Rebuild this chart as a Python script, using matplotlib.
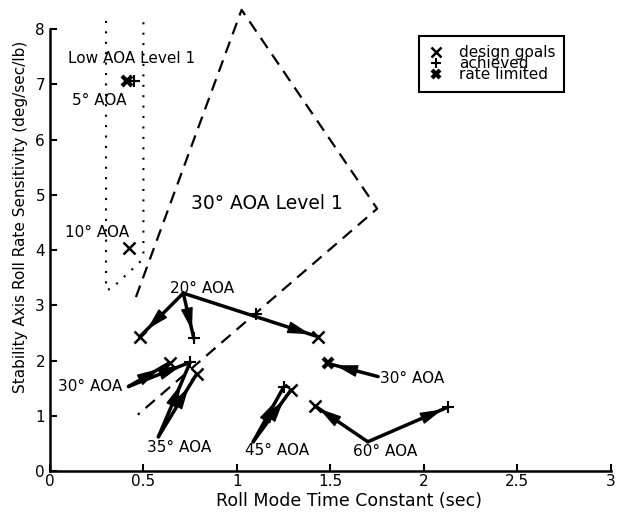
import matplotlib.pyplot as plt
from matplotlib.lines import Line2D

plt.rcParams['font.family'] = ['DejaVu Sans']

# Low AOA level 1 boundary (dotted) and 30 deg AOA level 1 boundary (dashed)
low_aoa_x = [0.30, 0.30, 0.33, 0.375, 0.43, 0.48, 0.50, 0.50]
low_aoa_y = [8.15, 3.28, 3.30, 3.45, 3.62, 3.78, 3.92, 8.15]
high_aoa_x = [0.46, 1.025, 1.75, 0.47]
high_aoa_y = [3.15, 8.35, 4.75, 1.02]

# design goals, achieved and rate limited points
goals_x = [0.424, 0.48, 1.435, 0.64, 0.785, 1.29, 1.417]
goals_y = [4.03, 2.43, 2.43, 1.96, 1.76, 1.47, 1.18]
achieved_x = [0.45, 0.77, 1.10, 0.75, 1.25, 2.13]
achieved_y = [7.07, 2.40, 2.84, 1.97, 1.52, 1.16]
limited_x = [0.41, 1.485]
limited_y = [7.07, 1.95]

# arrows: start point, end point, fraction of the way where the head sits
arrow_x0 = [0.713, 0.713, 0.713, 0.42, 0.42, 0.58, 0.58, 1.087, 1.087, 1.70, 1.70, 1.755]
arrow_y0 = [3.22, 3.22, 3.22, 1.53, 1.53, 0.62, 0.62, 0.53, 0.53, 0.53, 0.53, 1.71]
arrow_x1 = [0.48, 0.77, 1.435, 0.64, 0.75, 0.785, 0.75, 1.29, 1.25, 1.417, 2.13, 1.485]
arrow_y1 = [2.43, 2.40, 2.43, 1.96, 1.97, 1.76, 1.97, 1.47, 1.52, 1.18, 1.16, 1.95]
arrow_frac = [0.83, 0.82, 0.94, 0.75, 0.85, 0.79, 0.7, 0.8, 0.75, 0.92, 0.93, 0.85]

labels = ['Low AOA Level 1', '5° AOA', '10° AOA', '30° AOA Level 1', '20° AOA',
          '30° AOA', '35° AOA', '45° AOA', '60° AOA', '30° AOA']
label_x = [0.097, 0.116, 0.08, 0.757, 0.642, 0.043, 0.517, 1.043, 1.62, 1.765]
label_y = [7.47, 6.71, 4.31, 4.85, 3.31, 1.53, 0.43, 0.38, 0.35, 1.68]
label_size = [11, 11, 11, 13.5, 11, 11, 11, 11, 11, 11]

fig = plt.figure(figsize=(6.24, 5.12), dpi=100)
ax = fig.add_axes([0.080, 0.080, 0.899, 0.863])

ax.plot(low_aoa_x, low_aoa_y, color='k', lw=1.5, ls=(0, (1, 4)), clip_on=False)
ax.plot(high_aoa_x, high_aoa_y, color='k', lw=1.6, ls=(0, (5.5, 3.5)), clip_on=False)

for x0, y0, x1, y1, f in zip(arrow_x0, arrow_y0, arrow_x1, arrow_y1, arrow_frac):
    ax.plot([x0, x1], [y0, y1], color='k', lw=2.5, solid_capstyle='round')
    tip = (x0 + f * (x1 - x0), y0 + f * (y1 - y0))
    ax.annotate('', xy=tip, xytext=(x0, y0),
                arrowprops=dict(arrowstyle='-|>,head_length=1.0,head_width=0.27',
                                color='k', lw=1.0, shrinkA=0, shrinkB=0,
                                mutation_scale=14))

ax.plot(goals_x, goals_y, 'x', color='k', ms=8, mew=1.8, ls='none')
ax.plot(achieved_x, achieved_y, '+', color='k', ms=8, mew=1.5, ls='none')
ax.plot(limited_x, limited_y, 'x', color='k', ms=7, mew=3.0, ls='none')

for txt, x, y, s in zip(labels, label_x, label_y, label_size):
    ax.text(x, y, txt, fontsize=s, ha='left', va='center')

handles = [
    Line2D([], [], marker='x', color='k', ls='none', ms=7, mew=1.8),
    Line2D([], [], marker='+', color='k', ls='none', ms=7, mew=1.5),
    Line2D([], [], marker='x', color='k', ls='none', ms=6, mew=3.0),
]
leg = ax.legend(handles, ['design goals', 'achieved', 'rate limited'],
                loc='upper left', bbox_to_anchor=(0.658, 0.985), fontsize=11,
                frameon=True, fancybox=False, edgecolor='k', framealpha=1,
                labelspacing=-0.25, handlelength=1.0, handletextpad=1.0,
                borderpad=0.6, borderaxespad=0)
leg.get_frame().set_linewidth(1.5)

ax.set_xlim(0, 3)
ax.set_ylim(0, 8)
ax.set_xticks([0, 0.5, 1, 1.5, 2, 2.5, 3])
ax.set_xticklabels(['0', '0.5', '1', '1.5', '2', '2.5', '3'])
ax.set_yticks(range(9))
ax.spines['top'].set_visible(False)
ax.spines['right'].set_visible(False)
ax.spines['left'].set_linewidth(1.8)
ax.spines['bottom'].set_linewidth(1.8)
ax.tick_params(direction='in', length=5, width=1.5, labelsize=11)
ax.tick_params(axis='x', pad=2)

ax.set_xlabel('Roll Mode Time Constant (sec)', fontsize=12.5)
ax.xaxis.set_label_coords(0.533, -0.047)
ax.set_ylabel('Stability Axis Roll Rate Sensitivity (deg/sec/lb)', fontsize=11)
ax.yaxis.set_label_coords(-0.039, 0.575)

fig.savefig('out.png', dpi=100)
